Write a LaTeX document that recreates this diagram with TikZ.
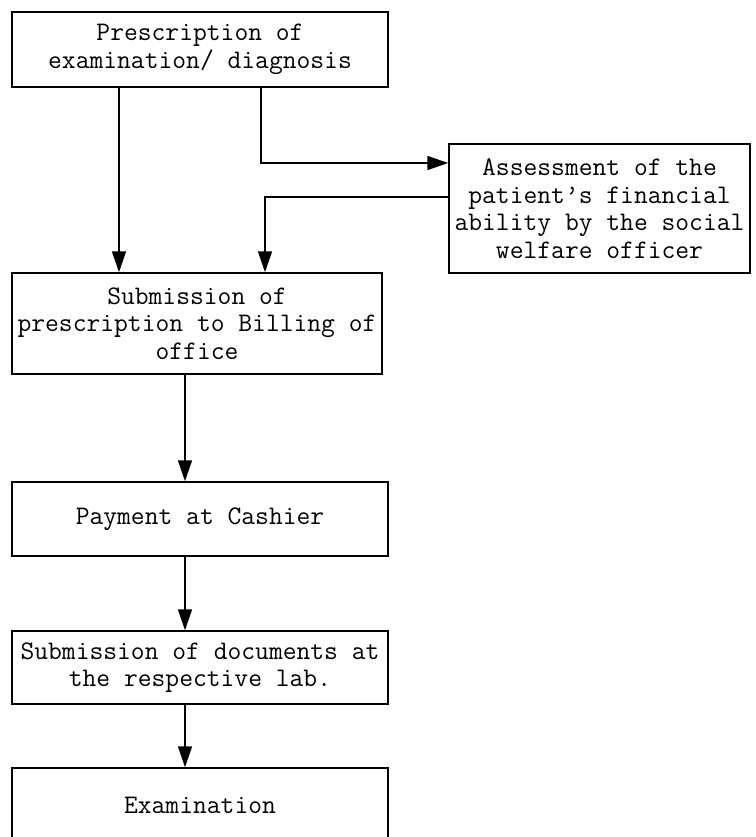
\documentclass[tikz,border=0pt]{standalone}
\usepackage{fontspec}
\usetikzlibrary{arrows.meta}
\begin{document}
\begin{tikzpicture}[x=1pt,y=-1pt,
  box/.style={draw,line width=1.5pt,inner sep=0pt,align=center,
    font=\ttfamily\fontsize{26.8}{27.5}\selectfont},
  arr/.style={line width=1.5pt,-{Triangle[length=21pt,width=14pt]}},
  ln/.style={line width=1.5pt}]
\useasboundingbox (0,0) rectangle (755,837);
\node[box,minimum width=376pt,minimum height=75pt] (pres) at (200,49.5)
  {Prescription of\\examination/ diagnosis};
\node[box,minimum width=301pt,minimum height=129pt] (assess) at (599.5,208.5)
  {Assessment of the\\patient’s financial\\ability by the social\\welfare officer};
\node[box,minimum width=370pt,minimum height=101pt] (sub) at (197,323.5)
  {Submission of\\prescription to Billing of\\office};
\node[box,minimum width=376pt,minimum height=74pt] (pay) at (200,519)
  {Payment at Cashier};
\node[box,minimum width=376pt,minimum height=73pt] (docs) at (200,667.5)
  {Submission of documents at\\the respective lab.};
\node[box,minimum width=376pt,minimum height=74pt] (exam) at (200,805)
  {Examination};
\coordinate (c1) at (119,0);
\coordinate (c2) at (261,163);
\coordinate (c3) at (265,197);
\coordinate (c4) at (185,0);
\draw[arr] (pres.south -| c1) -- (sub.north -| c1);
\draw[arr] (pres.south -| c2) |- (assess.west |- c2);
\draw[arr] (assess.west |- c3) -| (sub.north -| c3);
\draw[arr] (sub.south -| c4) -- (pay.north -| c4);
\draw[arr] (pay.south -| c4) -- (docs.north -| c4);
\draw[arr] (docs.south -| c4) -- (exam.north -| c4);
\end{tikzpicture}
\end{document}
